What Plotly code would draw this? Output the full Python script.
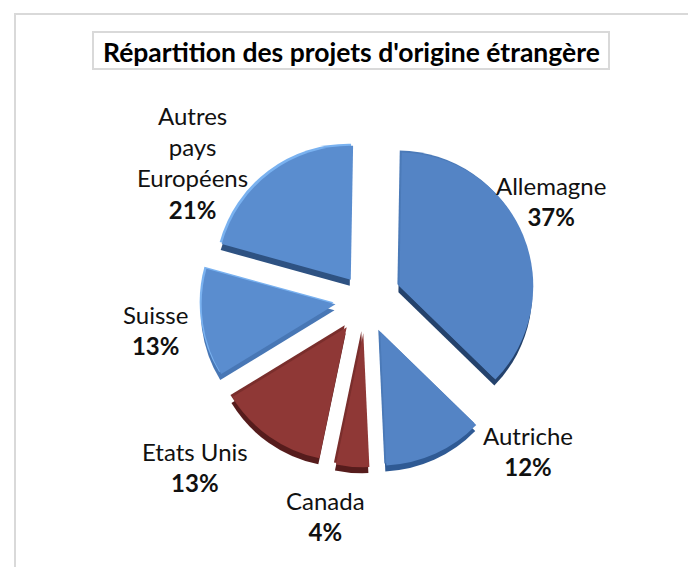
import plotly.graph_objects as go

W, H = 688, 559  # the page body adds an 8 px margin
OFF = 8
title = "Répartition des projets d'origine étrangère"
countries = ["Allemagne", "Autriche", "Canada", "Etats Unis", "Suisse", "Autres<br>pays<br>Européens"]
shares = [37, 12, 4, 13, 13, 21]
pulls = [0.27, 0.26, 0.25, 0.25, 0.23, 0.19]
top_colors = ["#5484c5", "#5484c5", "#8f3836", "#8f3836", "#5a8dcf", "#5a8dcf"]
side_colors = ["#24426c", "#2f5a94", "#561c1c", "#561c1c", "#4877b5", "#2e5282"]
edge_colors = ["#4b7ab8", "#4b7ab8", "#7a2e2c", "#7a2e2c", "#7ab2f0", "#7ab2f0"]
label_px = [(551, 201), (528, 451), (325, 516), (195, 467), (155, 330), (193, 162)]

CX, CY, HALF = 366, 300, 170


def fx(x):
    return (x - OFF) / W


def fy(y):
    return 1 - (y - OFF) / H


def dom(dx=0, dy=0):
    return dict(
        x=[fx(CX + dx - HALF), fx(CX + dx + HALF)],
        y=[fy(CY + dy + HALF), fy(CY + dy - HALF)],
    )


def pie(colors, dx, dy):
    return go.Pie(
        values=shares, labels=countries, pull=pulls, sort=False,
        direction="clockwise", rotation=1, textinfo="none", hoverinfo="label+percent",
        marker=dict(colors=colors, line=dict(width=0)), domain=dom(dx, dy), showlegend=False,
    )


fig = go.Figure([pie(side_colors, -1, 6), pie(edge_colors, -2, -2), pie(top_colors, 0, 0)])

anns = [dict(
    text=f"<b>{title}</b>", x=fx(351), y=fy(52), xref="paper", yref="paper",
    showarrow=False, font=dict(family="Lato", size=26.5, color="#000"), xanchor="center", yanchor="middle",
)]
for name, share, (x, y) in zip(countries, shares, label_px):
    anns.append(dict(
        text=f"{name}<br><b>{share}%</b>", x=fx(x), y=fy(y), xref="paper", yref="paper",
        showarrow=False, font=dict(family="Lato", size=24, color="#111"), align="center",
        xanchor="center", yanchor="middle",
    ))

fig.update_layout(
    width=W, height=H, margin=dict(l=0, r=0, t=0, b=0), paper_bgcolor="white",
    annotations=anns,
    shapes=[
        dict(type="rect", xref="paper", yref="paper", x0=fx(15), x1=fx(692), y0=-0.02, y1=fy(14),
             line=dict(color="#d9d9d9", width=2)),
        dict(type="rect", xref="paper", yref="paper", x0=fx(93), x1=fx(609), y0=fy(69), y1=fy(32),
             line=dict(color="#d9d9d9", width=2)),
    ],
)
fig.write_html("out.html")
